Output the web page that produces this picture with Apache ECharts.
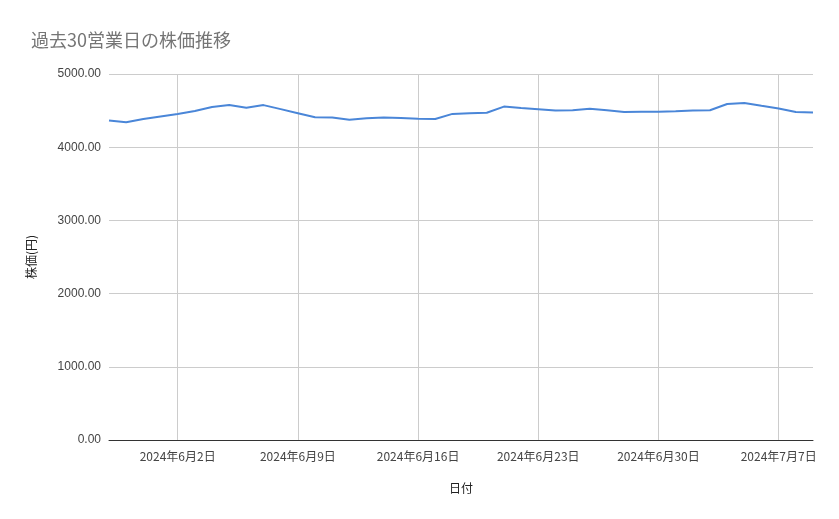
<!DOCTYPE html>
<html>
<head>
<meta charset="utf-8">
<script src="https://cdn.jsdelivr.net/npm/echarts@6/dist/echarts.min.js"></script>
<style>html,body{margin:0;padding:0;background:#fff}#chart{width:839px;height:519px}</style>
</head>
<body>
<div id="chart"></div>
<script>
// 2024-05-29 .. 2024-07-09
var startDate = [2024, 5, 29];
var prices = [4365, 4340, 4385, 4420, 4455, 4495, 4550, 4575, 4540, 4575, 4520, 4465, 4410, 4405,
	4375, 4395, 4405, 4400, 4390, 4385, 4455, 4465, 4470, 4555, 4535, 4520, 4500, 4505, 4525,
	4505, 4480, 4485, 4485, 4490, 4500, 4505, 4590, 4605, 4565, 4530, 4480, 4475];

var dates = [], sundays = {};
for (var i = 0; i < prices.length; i++) {
	var d = new Date(startDate[0], startDate[1] - 1, startDate[2] + i);
	dates.push(d.getFullYear() + '年' + (d.getMonth() + 1) + '月' + d.getDate() + '日');
	if (d.getDay() === 0) sundays[i] = true;
}
var isSunday = function (idx) { return !!sundays[idx]; };

var chart = echarts.init(document.getElementById('chart'));
chart.setOption({
	animation: false,
	title: {
		text: '過去30営業日の株価推移',
		left: 26, top: 26,
		textStyle: {color: '#757575', fontSize: 18, fontWeight: 'normal', fontFamily: 'Noto Sans CJK JP'}
	},
	grid: {left: 109, right: 26, top: 74, bottom: 79},
	xAxis: {
		type: 'category',
		boundaryGap: false,
		data: dates,
		name: '日付',
		nameLocation: 'middle',
		nameGap: 42,
		nameTextStyle: {color: '#222', fontSize: 12, fontFamily: 'Noto Sans CJK JP'},
		axisLine: {lineStyle: {color: '#333'}},
		axisTick: {show: false},
		axisLabel: {interval: function (idx) { return isSunday(idx); }, color: '#444', fontSize: 12, margin: 10, fontFamily: 'Noto Sans CJK JP'},
		splitLine: {show: true, interval: function (idx) { return isSunday(idx); }, lineStyle: {color: '#ccc'}}
	},
	yAxis: {
		type: 'value',
		min: 0, max: 5000, interval: 1000,
		name: '株価(円)',
		nameLocation: 'middle',
		nameGap: 72,
		nameTextStyle: {color: '#222', fontSize: 12, fontFamily: 'Noto Sans CJK JP'},
		axisLabel: {formatter: function (v) { return v.toFixed(2); }, color: '#444', fontSize: 12},
		axisLine: {show: false},
		splitLine: {lineStyle: {color: '#ccc'}}
	},
	series: [{
		type: 'line',
		data: prices,
		symbol: 'none',
		lineStyle: {color: '#4a86d8', width: 2}
	}]
});
</script>
</body>
</html>
